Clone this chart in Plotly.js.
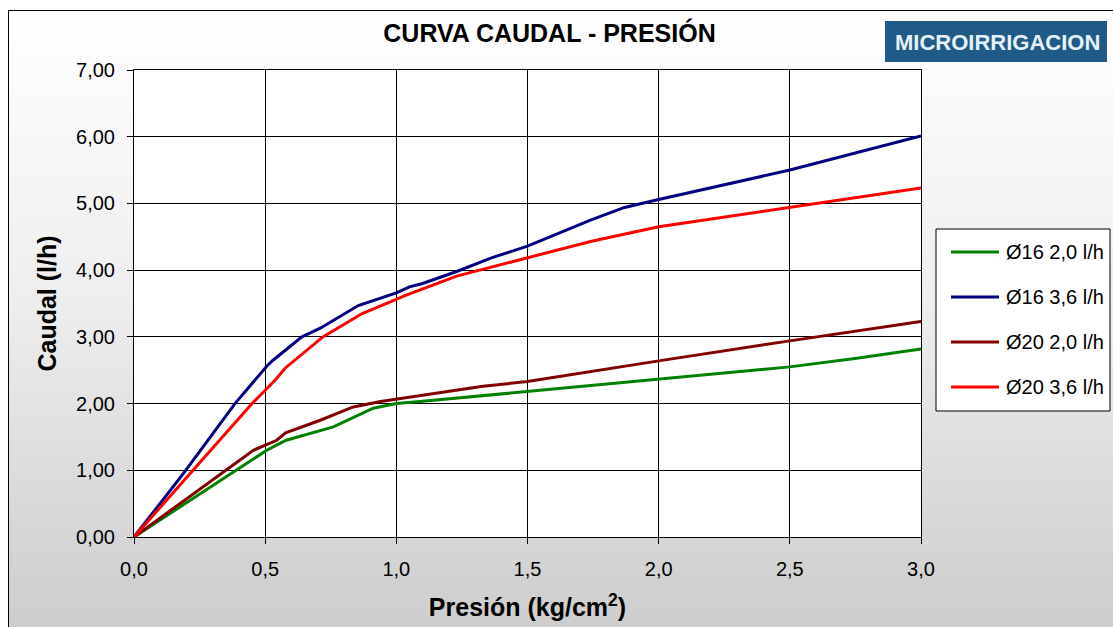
<!DOCTYPE html>
<html>
<head>
<meta charset="utf-8">
<script src="https://cdn.plot.ly/plotly-3.0.1.min.js"></script>
<style>
  html, body { margin: 0; padding: 0; background: #ffffff; }
  #frame { position: absolute; left: 8px; top: 10px; width: 1120px; height: 640px;
           border-left: 1px solid #000; border-top: 1px solid #000;
           background: linear-gradient(to bottom, #ffffff 0%, #eeeeee 45%, #d2d2d2 88%, #cccccc 100%); }
  #chart { position: absolute; left: 0; top: 0; width: 1113px; height: 627px; }
</style>
</head>
<body>
<div id="frame"></div>
<div id="chart"></div>
<script>
// ---- data ----
const seriesNames = ["Ø16 2,0 l/h", "Ø16 3,6 l/h", "Ø20 2,0 l/h", "Ø20 3,6 l/h"];

const x_d16_20 = [0, 0.20, 0.38, 0.506, 0.58, 0.76, 0.912, 1.0, 1.09, 1.25, 1.33, 1.5, 2.0, 2.5, 2.755, 3.0];
const y_d16_20 = [0, 0.51, 0.98, 1.30, 1.45, 1.65, 1.93, 2.0, 2.03, 2.09, 2.11, 2.18, 2.36, 2.55, 2.68, 2.82];

const x_d16_36 = [0, 0.19, 0.385, 0.506, 0.53, 0.64, 0.71, 0.855, 1.0, 1.05, 1.10, 1.23, 1.36, 1.5, 1.74, 1.87, 2.0, 2.26, 2.37, 2.5, 3.0];
const y_d16_36 = [0, 0.96, 2.00, 2.56, 2.65, 3.00, 3.13, 3.47, 3.66, 3.75, 3.80, 3.98, 4.18, 4.36, 4.75, 4.94, 5.06, 5.29, 5.38, 5.50, 6.01];

const x_d20_20 = [0, 0.20, 0.33, 0.455, 0.544, 0.578, 0.71, 0.76, 0.836, 0.94, 1.09, 1.33, 1.5, 1.74, 2.0, 2.5, 3.0];
const y_d20_20 = [0, 0.57, 0.95, 1.30, 1.45, 1.56, 1.75, 1.83, 1.95, 2.03, 2.12, 2.26, 2.33, 2.48, 2.64, 2.94, 3.23];

const x_d20_36 = [0, 0.45, 0.50, 0.54, 0.576, 0.645, 0.72, 0.87, 1.0, 1.04, 1.23, 1.5, 1.74, 2.0, 2.5, 3.0];
const y_d20_36 = [0, 2.00, 2.20, 2.36, 2.53, 2.75, 3.00, 3.35, 3.57, 3.63, 3.91, 4.18, 4.43, 4.65, 4.94, 5.23];

const xs = [x_d16_20, x_d16_36, x_d20_20, x_d20_36];
const ys = [y_d16_20, y_d16_36, y_d20_20, y_d20_36];
const colors = ["#008000", "#000080", "#800000", "#ff0000"];

const titleText = "CURVA CAUDAL - PRESIÓN";
const xTitle = "Presión (kg/cm<sup>2</sup>)";
const yTitle = "Caudal (l/h)";
const logoText = "MICROIRRIGACION";

// ---- layout geometry (pixels) ----
const W = 1113, H = 627;
const L = 134, R = 921, T = 70, B = 537;
const px = v => (v - L) / (R - L);
const py = v => (B - v) / (B - T);

const FONT = "Liberation Sans, Arial, sans-serif";

const traces = seriesNames.map((n, i) => ({
  type: "scatter", mode: "lines", name: n,
  x: xs[i], y: ys[i],
  line: { color: colors[i], width: 3 },
  showlegend: false, hoverinfo: "x+y+name"
}));

const shapes = [];
const annotations = [];

// logo
shapes.push({ type: "rect", xref: "paper", yref: "paper",
  x0: px(885), x1: px(1107), y0: py(62), y1: py(21),
  fillcolor: "#1f5b86", line: { width: 0 }, layer: "above" });
annotations.push({ xref: "paper", yref: "paper", x: px(997), y: py(42),
  xanchor: "center", yanchor: "middle", showarrow: false,
  text: "<b>" + logoText + "</b>",
  font: { family: FONT, size: 22, color: "#e6f0f6" } });

// legend box
shapes.push({ type: "rect", xref: "paper", yref: "paper",
  x0: px(936), x1: px(1110), y0: py(411), y1: py(229),
  fillcolor: "#ffffff", line: { color: "#000", width: 1 }, layer: "below" });
const legY = [252, 297, 342, 387];
seriesNames.forEach((n, i) => {
  shapes.push({ type: "line", xref: "paper", yref: "paper",
    x0: px(951), x1: px(999), y0: py(legY[i]), y1: py(legY[i]),
    line: { color: colors[i], width: 3 } });
  annotations.push({ xref: "paper", yref: "paper", x: px(1004), y: py(legY[i]),
    xanchor: "left", yanchor: "middle", showarrow: false, text: n,
    font: { family: FONT, size: 20, color: "#000" } });
});

const layout = {
  width: W, height: H,
  margin: { l: L, r: W - R, t: T, b: H - B, pad: 0 },
  paper_bgcolor: "rgba(0,0,0,0)",
  plot_bgcolor: "#ffffff",
  separators: ",.",
  font: { family: FONT, color: "#000" },
  title: { text: "<b>" + titleText + "</b>", x: 549.5 / W, xref: "container", xanchor: "center",
           y: 1 - 33 / H, yref: "container", yanchor: "middle",
           font: { family: FONT, size: 25, color: "#000" } },
  xaxis: {
    range: [0, 3], dtick: 0.5, tick0: 0, tickformat: ".1f",
    showgrid: true, gridcolor: "#000", gridwidth: 1,
    zeroline: false, showline: true, linecolor: "#000", linewidth: 1, mirror: true,
    ticks: "outside", ticklen: 6, tickcolor: "#000", tickwidth: 1,
    ticklabelstandoff: 8,
    tickfont: { family: FONT, size: 20, color: "#000" },
    title: { text: "<b>" + xTitle + "</b>", standoff: 19, font: { family: FONT, size: 25, color: "#000" } },
    automargin: false, fixedrange: true
  },
  yaxis: {
    range: [0, 7], dtick: 1, tick0: 0, tickformat: ".2f",
    showgrid: true, gridcolor: "#000", gridwidth: 1,
    zeroline: false, showline: true, linecolor: "#000", linewidth: 1, mirror: true,
    ticks: "outside", ticklen: 6, tickcolor: "#000", tickwidth: 1,
    ticklabelstandoff: 8,
    tickfont: { family: FONT, size: 20, color: "#000" },
    title: { text: "<b>" + yTitle + "</b>", standoff: 12, font: { family: FONT, size: 25, color: "#000" } },
    automargin: false, fixedrange: true
  },
  shapes: shapes,
  annotations: annotations
};

Plotly.newPlot("chart", traces, layout, { displayModeBar: false });
</script>
</body>
</html>
